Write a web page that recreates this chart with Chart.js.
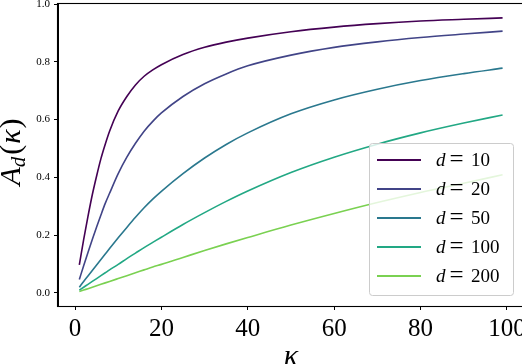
<!DOCTYPE html>
<html>
<head>
<meta charset="utf-8">
<script src="https://cdn.jsdelivr.net/npm/chart.js@4.4.1/dist/chart.umd.min.js"></script>
<style>
html,body{margin:0;padding:0;background:#fff;overflow:hidden;width:522px;height:364px;}
canvas{display:block;}
</style>
</head>
<body>
<canvas id="c" width="524" height="364"></canvas>
<script>
// ---- data ----
const kappa = [1,2,3,4,5,6,7,8,10,12,14,16,18,20,25,30,35,40,50,60,70,80,90,99];
const dValues = [10,20,50,100,200];
const a10  = [0.097,0.185,0.265,0.340,0.405,0.465,0.515,0.560,0.630,0.680,0.720,0.750,0.772,0.790,0.825,0.850,0.868,0.882,0.904,0.920,0.932,0.941,0.947,0.952];
const a20  = [0.047,0.094,0.140,0.185,0.228,0.270,0.310,0.345,0.413,0.470,0.518,0.560,0.594,0.623,0.680,0.724,0.758,0.786,0.823,0.850,0.869,0.884,0.896,0.906];
const a50  = [0.020,0.040,0.059,0.078,0.097,0.116,0.135,0.154,0.191,0.227,0.262,0.295,0.325,0.352,0.413,0.467,0.514,0.554,0.620,0.668,0.705,0.735,0.759,0.778];
const a100 = [0.010,0.020,0.030,0.040,0.050,0.060,0.070,0.080,0.099,0.119,0.138,0.157,0.175,0.193,0.237,0.278,0.317,0.353,0.417,0.470,0.515,0.554,0.588,0.616];
const a200 = [0.005,0.010,0.015,0.020,0.025,0.030,0.035,0.040,0.050,0.060,0.070,0.080,0.090,0.099,0.123,0.147,0.170,0.192,0.235,0.275,0.313,0.348,0.380,0.409];
const xTicks = [0,20,40,60,80,100];
const yTicks = [0.0,0.2,0.4,0.6,0.8,1.0];
const colors = ['#440154','#414487','#2a788e','#22a884','#7ad151'];

const series = [a10,a20,a50,a100,a200];
const SERIF = '"Liberation Serif", "DejaVu Serif", serif';

const datasets = series.map((vals,i)=>({
  label: 'd = ' + dValues[i],
  data: vals.map((v,j)=>({x:kappa[j], y:v})),
  borderColor: colors[i],
  backgroundColor: colors[i],
  borderWidth: 1.6,
  pointRadius: 0,
  fill: false,
  cubicInterpolationMode: 'monotone'
}));

const bgPlugin = {
  id:'bg',
  beforeDraw(chart){
    const c = chart.ctx;
    c.save(); c.fillStyle='#fff'; c.fillRect(0,0,chart.width,chart.height); c.restore();
  }
};

const legendPlugin = {
  id:'innerLegend',
  afterDatasetsDraw(chart){
    const c = chart.ctx;
    c.save();
    const x=369.5, y=143.5, w=144, h=152, r=3;
    c.beginPath();
    c.moveTo(x+r,y); c.lineTo(x+w-r,y); c.quadraticCurveTo(x+w,y,x+w,y+r);
    c.lineTo(x+w,y+h-r); c.quadraticCurveTo(x+w,y+h,x+w-r,y+h);
    c.lineTo(x+r,y+h); c.quadraticCurveTo(x,y+h,x,y+h-r);
    c.lineTo(x,y+r); c.quadraticCurveTo(x,y,x+r,y); c.closePath();
    c.fillStyle='rgba(255,255,255,0.8)'; c.fill();
    c.strokeStyle='#cccccc'; c.lineWidth=1; c.stroke();
    chart.data.datasets.forEach((ds,i)=>{
      const ry = 160 + i*29;
      c.strokeStyle = ds.borderColor; c.lineWidth = 2;
      c.beginPath(); c.moveTo(377,ry); c.lineTo(421,ry); c.stroke();
      c.fillStyle='#000'; c.textBaseline='alphabetic'; c.textAlign='left';
      c.font = 'italic 19px ' + SERIF;
      c.fillText('d', 436, ry+6);
      c.font = '25px ' + SERIF;
      c.textAlign='center';
      c.fillText('=', 456.5, ry+7);
      c.textAlign='left';
      c.font = '19px ' + SERIF;
      c.fillText(String(dValues[i]), 471, ry+6);
    });
    c.restore();
  }
};

const framePlugin = {
  id:'frame',
  afterDraw(chart){
    const a = chart.chartArea, c = chart.ctx;
    c.save();
    c.strokeStyle='#000'; c.lineWidth=1.1;
    c.strokeRect(Math.round(a.left)-0.5, Math.round(a.top)-0.5, Math.round(a.right-a.left)+1, Math.round(a.bottom-a.top)+1);
    // y axis title A_d(kappa)
    c.translate(0,152);
    c.rotate(-Math.PI/2);
    c.fillStyle='#000';
    c.textBaseline='alphabetic';
    const parts = [
      {t:'A', f:'italic 30px '+SERIF, dy:0, gap:0},
      {t:'d', f:'italic 21px '+SERIF, dy:5, gap:0},
      {t:'(', f:'30px '+SERIF, dy:0, gap:2},
      {t:'\u03BA', f:'italic 30px '+SERIF, dy:0, gap:1},
      {t:')', f:'30px '+SERIF, dy:0, gap:1}
    ];
    let total=0;
    parts.forEach(p=>{c.font=p.f; p.w=c.measureText(p.t).width; total+=p.w+p.gap;});
    let px = -total/2;
    parts.forEach(p=>{px+=p.gap; c.font=p.f; c.fillText(p.t,px,20+p.dy); px+=p.w;});
    c.restore();
    // x axis title kappa
    c.save();
    c.fillStyle='#000'; c.textAlign='center'; c.textBaseline='alphabetic';
    c.font='italic 30px '+SERIF;
    c.fillText('\u03BA', (a.left+a.right)/2, 365);
    c.restore();
  }
};

new Chart(document.getElementById('c'), {
  type:'line',
  data:{datasets},
  plugins:[bgPlugin, legendPlugin, framePlugin],
  options:{
    responsive:false,
    animation:false,
    devicePixelRatio:1,
    layout:{padding:{top:4,left:0,right:0,bottom:0}},
    plugins:{legend:{display:false}, tooltip:{enabled:false}},
    scales:{
      x:{
        type:'linear', min:-3.94, max:103.96,
        afterBuildTicks(s){ s.ticks = xTicks.map(v=>({value:v})); },
        afterFit(s){ s.height=58; s.paddingLeft=0; s.paddingRight=0; },
        ticks:{color:'#000', font:{family:SERIF, size:25}, padding:4, maxRotation:0, autoSkip:false, callback:v=>String(v)},
        grid:{display:true, drawOnChartArea:false, drawTicks:true, tickLength:4, color:'#000', lineWidth:1},
        border:{display:true, color:'#000'}
      },
      y:{
        type:'linear', min:-0.045, max:1.0,
        afterBuildTicks(s){ s.ticks = yTicks.map(v=>({value:v})); },
        afterFit(s){ s.width=58; s.paddingTop=0; s.paddingBottom=0; },
        ticks:{color:'#000', font:{family:SERIF, size:11}, padding:4, callback:v=>Number(v).toFixed(1)},
        grid:{display:true, drawOnChartArea:false, drawTicks:true, tickLength:4, color:'#000', lineWidth:1},
        border:{display:true, color:'#000'}
      }
    }
  }
});
</script>
</body>
</html>
